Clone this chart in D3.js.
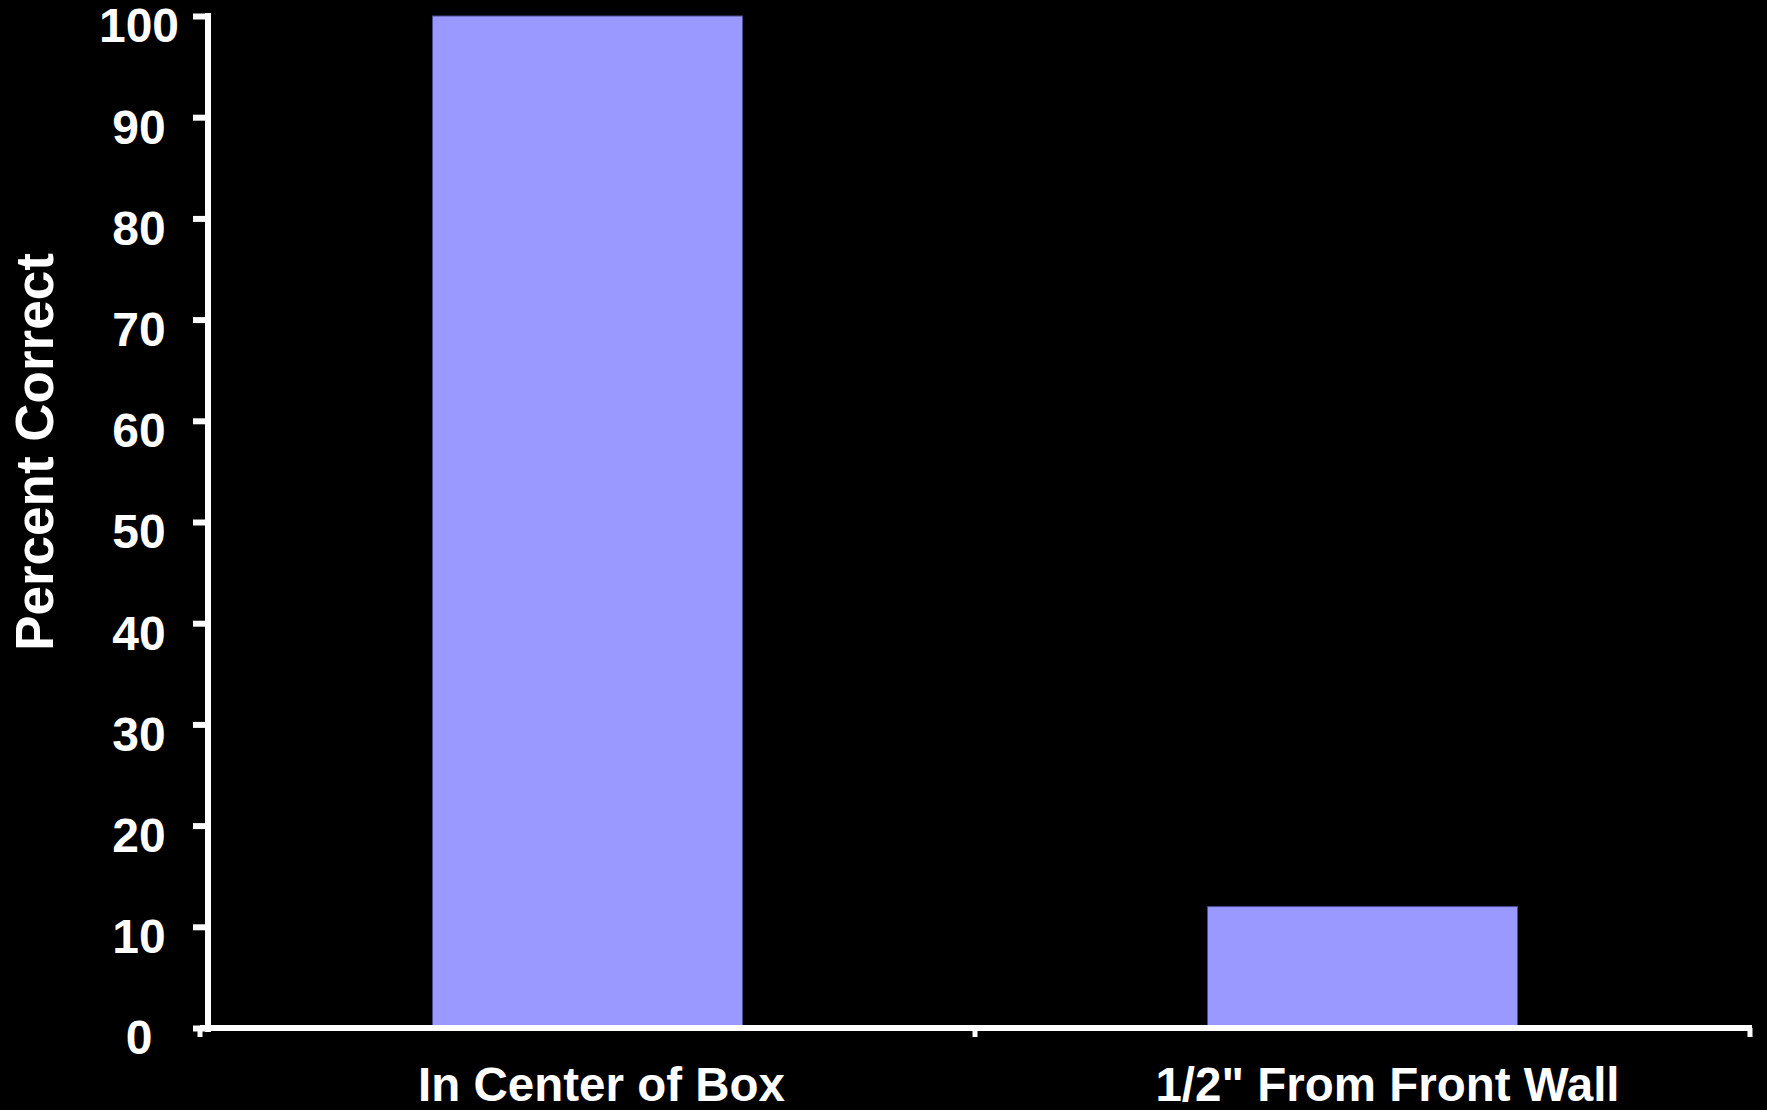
<!DOCTYPE html>
<html>
<head>
<meta charset="utf-8">
<script src="https://cdn.jsdelivr.net/npm/d3@7/dist/d3.min.js"></script>
<style>
  html, body { margin: 0; padding: 0; background: #000; }
  svg { display: block; }
  text { font-family: "Liberation Sans", Arial, sans-serif; font-weight: bold; fill: #fff; }
</style>
</head>
<body>
<script>
// Percent correct by object position
const categories = ["In Center of Box", "1/2\" From Front Wall"];
const percentCorrect = [100, 12];
const yTicks = [0, 10, 20, 30, 40, 50, 60, 70, 80, 90, 100];
const yTitle = "Percent Correct";

const W = 1767, H = 1110;
const svg = d3.select("body").append("svg").attr("width", W).attr("height", H);
svg.append("rect").attr("width", W).attr("height", H).attr("fill", "#000");

const axisX = 208;          // vertical axis position
const x = d3.scaleBand().domain(categories).range([200, 1750]).paddingInner(0).paddingOuter(0);
const y = d3.scaleLinear().domain([0, 100]).range([1028, 16]);

const barFrac = 0.4;
const labelShift = [14, 25];   // category labels sit a little right of band centre

// bars
svg.append("g").selectAll("rect")
  .data(categories)
  .join("rect")
  .attr("x", (d) => x(d) + x.bandwidth() * (1 - barFrac) / 2)
  .attr("width", x.bandwidth() * barFrac)
  .attr("y", (d, i) => y(percentCorrect[i]))
  .attr("height", (d, i) => y(0) - y(percentCorrect[i]))
  .attr("fill", "#9999ff")
  .attr("stroke", "#4b4b8f")
  .attr("stroke-width", 1);

// y axis
const gy = svg.append("g")
  .attr("transform", `translate(${axisX},0)`)
  .call(d3.axisLeft(y).tickValues(yTicks).tickSize(15).tickPadding(0).tickSizeOuter(0));
gy.select(".domain").attr("stroke", "#fff").attr("stroke-width", 6)
  .attr("d", `M0,${y(100) - 3}V${y(0) + 4}`);
gy.selectAll(".tick line").attr("stroke", "#fff").attr("stroke-width", 6).attr("x1", 0);
gy.selectAll(".tick text")
  .attr("x", 139 - axisX)
  .attr("dy", "0.54em")
  .attr("text-anchor", "middle")
  .style("font-size", "48px")
  .style("font-family", "'Liberation Sans', Arial, sans-serif")
  .style("font-weight", "bold")
  .attr("fill", "#fff");

// x axis
const gx = svg.append("g").attr("transform", `translate(0,${y(0)})`);
gx.append("line")
  .attr("x1", x.range()[0]).attr("x2", x.range()[1] + 2)
  .attr("stroke", "#fff").attr("stroke-width", 6);
const xTickPos = categories.map((c) => x(c)).concat([x.range()[1]]);
gx.selectAll(".xtick")
  .data(xTickPos)
  .join("line")
  .attr("class", "xtick")
  .attr("x1", (d) => d).attr("x2", (d) => d)
  .attr("y1", 0).attr("y2", 9)
  .attr("stroke", "#fff").attr("stroke-width", 5);
gx.selectAll(".xlabel")
  .data(categories)
  .join("text")
  .attr("class", "xlabel")
  .attr("x", (d) => x(d) + x.bandwidth() / 2)
  .attr("dx", (d, i) => labelShift[i])
  .attr("y", 73)
  .attr("text-anchor", "middle")
  .style("font-size", "47.5px")
  .text((d) => d);

// y axis title
svg.append("text")
  .attr("transform", `translate(53,${(y(0) + y(100)) / 2 - 70}) rotate(-90)`)
  .attr("text-anchor", "middle")
  .style("font-size", "53px")
  .text(yTitle);
</script>
</body>
</html>
